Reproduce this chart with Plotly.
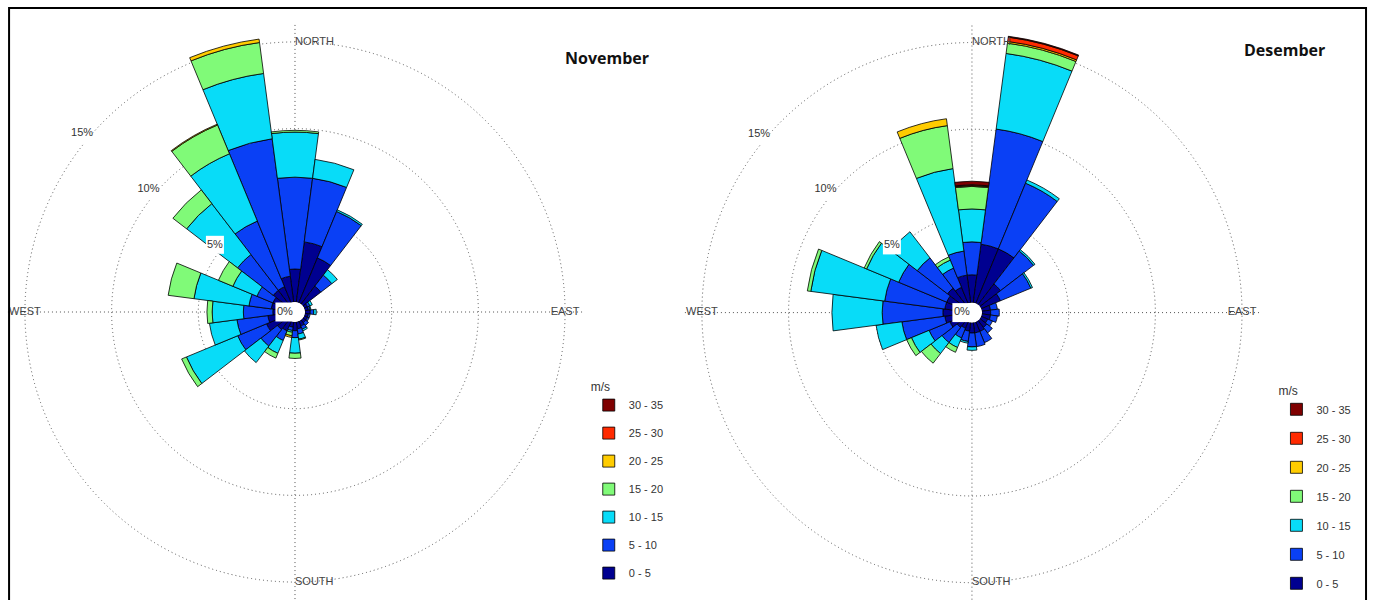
import plotly.graph_objects as go

# ---------------- data ----------------
directions = [0, 15, 30, 45, 60, 75, 90, 105, 120, 135, 150, 165,
              180, 195, 210, 225, 240, 255, 270, 285, 300, 315, 330, 345]
speed_bins = ["0 - 5", "5 - 10", "10 - 15", "15 - 20", "20 - 25", "25 - 30", "30 - 35"]
bin_colors = ["#000090", "#0A40F5", "#08DCF8", "#80FA78", "#FFCC00", "#FF2A00", "#7F0000"]

# November, % frequency per direction for each speed bin (m/s)
nov_0_5 = [1.9, 3.5, 2.8, 1.3, 0.2, 0.2, 0.3, 0.2, 0.2, 0.2, 0.3, 0.4,
           0.5, 0.3, 0.6, 0.7, 1.2, 1.0, 0.7, 0.8, 0.8, 1.0, 1.0, 1.5]
nov_5_10 = [5.3, 3.7, 2.9, 0.8, 0.15, 0.1, 0.2, 0.1, 0.1, 0.2, 0.2, 0.3,
            0.4, 0.2, 0.6, 1.2, 1.8, 1.8, 1.7, 1.3, 1.0, 2.6, 4.1, 8.0]
nov_10_15 = [2.6, 1.1, 0.1, 0.4, 0.15, 0.05, 0.15, 0.0, 0.0, 0.0, 0.1, 0.3,
             0.9, 0.1, 0.8, 1.2, 3.2, 1.6, 1.8, 3.2, 1.5, 3.7, 4.2, 3.8]
nov_15_20 = [0.1, 0.0, 0.0, 0.0, 0.0, 0.0, 0.0, 0.0, 0.0, 0.0, 0.0, 0.05,
             0.3, 0.2, 0.3, 0.0, 0.3, 0.0, 0.3, 1.5, 0.9, 1.0, 1.8, 1.8]
nov_20_25 = [0.0, 0.0, 0.0, 0.0, 0.0, 0.0, 0.0, 0.0, 0.0, 0.0, 0.0, 0.0,
             0.0, 0.1, 0.0, 0.0, 0.0, 0.0, 0.0, 0.0, 0.0, 0.0, 0.05, 0.2]
nov_25_30 = [0.0] * 24
nov_30_35 = [0.0] * 24

# Desember
des_0_5 = [1.6, 3.4, 3.4, 1.5, 1.2, 0.5, 0.5, 0.5, 0.4, 0.5, 0.6, 0.6,
           0.6, 0.5, 0.4, 0.5, 0.8, 1.0, 1.1, 1.0, 1.0, 1.2, 1.0, 1.6]
des_5_10 = [1.9, 6.7, 4.1, 2.4, 1.9, 0.4, 0.5, 0.4, 0.3, 0.4, 0.7, 0.8,
            0.8, 0.6, 0.6, 1.1, 1.3, 2.5, 3.5, 3.5, 3.0, 2.2, 1.2, 1.4]
des_10_15 = [1.9, 4.4, 0.2, 0.1, 0.1, 0.0, 0.0, 0.0, 0.0, 0.0, 0.0, 0.0,
             0.2, 0.1, 0.6, 0.8, 1.1, 1.5, 2.9, 4.3, 2.0, 1.9, 0.5, 4.8]
des_15_20 = [1.3, 0.6, 0.0, 0.0, 0.0, 0.0, 0.0, 0.0, 0.0, 0.0, 0.0, 0.0,
             0.0, 0.0, 0.3, 0.7, 0.3, 0.0, 0.0, 0.2, 0.15, 0.0, 0.2, 2.5]
des_20_25 = [0.05, 0.1, 0.0, 0.0, 0.0, 0.0, 0.0, 0.0, 0.0, 0.0, 0.0, 0.0,
             0.0, 0.0, 0.0, 0.0, 0.0, 0.0, 0.0, 0.0, 0.0, 0.0, 0.0, 0.4]
des_25_30 = [0.05, 0.25, 0.0, 0.0, 0.0, 0.0, 0.0, 0.0, 0.0, 0.0, 0.0, 0.0,
             0.0, 0.0, 0.0, 0.0, 0.0, 0.0, 0.0, 0.0, 0.0, 0.0, 0.0, 0.0]
des_30_35 = [0.2, 0.05, 0.0, 0.0, 0.0, 0.0, 0.0, 0.0, 0.0, 0.0, 0.0, 0.0,
             0.0, 0.0, 0.0, 0.0, 0.0, 0.0, 0.0, 0.0, 0.0, 0.0, 0.0, 0.0]

nov_series = [nov_0_5, nov_5_10, nov_10_15, nov_15_20, nov_20_25, nov_25_30, nov_30_35]
des_series = [des_0_5, des_5_10, des_10_15, des_15_20, des_20_25, des_25_30, des_30_35]

compass_theta = [0, 90, 180, 270]
compass_text = ["NORTH", "EAST", "SOUTH", "WEST"]
pct_ticks = [0, 5, 10, 15]
pct_text = ["0%", "5%", "10%", "15%"]

FONT = "Liberation Sans, Arial"
LABEL_BEARING = 310      # direction along which the 5/10/15 % labels are written
ZERO_BEARING = 270       # the 0% label sits just west of the hole
LABEL_OUTSET = 0.45      # labels sit slightly outside their ring

# ---------------- figure ----------------
fig = go.Figure()

def add_rose(series, subplot, legend):
    n = len(series)
    for i, (vals, name, col) in enumerate(zip(series, speed_bins, bin_colors)):
        fig.add_trace(go.Barpolar(
            r=vals, theta=directions, width=[15] * len(directions),
            name=name, marker=dict(color=col, line=dict(color="#000000", width=0.8)),
            subplot=subplot, legend=legend, legendgroup=legend + name,
            legendrank=10 * (n - i),
            hovertemplate="%{theta}°: %{r}%<extra>" + name + " m/s</extra>",
        ))
    # compass labels on the outer ring
    fig.add_trace(go.Scatterpolar(
        r=[pct_ticks[-1]] * 4, theta=compass_theta, text=compass_text, mode="text",
        textposition=["middle right", "middle center", "middle right", "middle center"],
        textfont=dict(family=FONT, size=11, color="#444444"),
        subplot=subplot, showlegend=False, hoverinfo="skip",
    ))
    # percentage labels of the rings, on small white boxes
    fig.add_trace(go.Scatterpolar(
        r=[pct_ticks[0]] + [t + LABEL_OUTSET for t in pct_ticks[1:]],
        theta=[ZERO_BEARING] + [LABEL_BEARING] * 3,
        text=pct_text, mode="markers+text", textposition="middle center",
        marker=dict(symbol="square", size=[19, 18, 22, 22], color="white", opacity=1,
                    line=dict(width=0)),
        textfont=dict(family=FONT, size=11, color="#333333"),
        subplot=subplot, showlegend=False, hoverinfo="skip",
    ))

add_rose(nov_series, "polar", "legend")
add_rose(des_series, "polar2", "legend2")

polar_common = dict(
    bgcolor="white",
    hole=0.035,
    barmode="stack",
    radialaxis=dict(
        range=[0, 16], tickvals=pct_ticks, showticklabels=False,
        showline=False, ticks="", showgrid=True, gridcolor="#555555", griddash="1px,3px",
        gridwidth=1, layer="above traces",
    ),
    angularaxis=dict(
        rotation=90, direction="clockwise", tickvals=compass_theta, showticklabels=False,
        ticks="", showline=False, showgrid=True, gridcolor="#555555", griddash="1px,3px",
        gridwidth=1, layer="above traces",
    ),
)

legend_common = dict(
    title=dict(text="m/s", font=dict(family=FONT, size=12, color="#333333")),
    font=dict(family=FONT, size=11, color="#333333"),
    traceorder="grouped", bgcolor="rgba(0,0,0,0)", xanchor="left", yanchor="top",
    itemclick=False, itemdoubleclick=False,
)

fig.update_layout(
    width=1374, height=600,
    margin=dict(l=0, r=0, t=0, b=0),
    paper_bgcolor="white", plot_bgcolor="white",
    polar=dict(domain=dict(x=[0.0055, 0.4239], y=[0.001, 0.959]), **polar_common),
    polar2=dict(domain=dict(x=[0.4972, 0.9176], y=[0.0, 0.958]), **polar_common),
    legend=dict(x=0.4285, y=0.375, tracegroupgap=9, **legend_common),
    legend2=dict(x=0.929, y=0.368, tracegroupgap=10, **legend_common),
    annotations=[
        dict(text="<b>November</b>", x=0.4418, y=0.9033, xref="paper", yref="paper",
             xanchor="center", yanchor="middle", showarrow=False,
             font=dict(family="Open Sans", size=16, color="#111111")),
        dict(text="<b>Desember</b>", x=0.9345, y=0.9167, xref="paper", yref="paper",
             xanchor="center", yanchor="middle", showarrow=False,
             font=dict(family="Open Sans", size=16, color="#111111")),
    ],
    shapes=[
        dict(type="rect", xref="paper", yref="paper", x0=0.0066, x1=0.9942, y0=-0.02, y1=0.9867,
             line=dict(color="black", width=2), fillcolor="rgba(0,0,0,0)"),
    ],
)

fig.write_html("out.html", config={"displayModeBar": False},
               post_script="document.body.style.margin='0';")
